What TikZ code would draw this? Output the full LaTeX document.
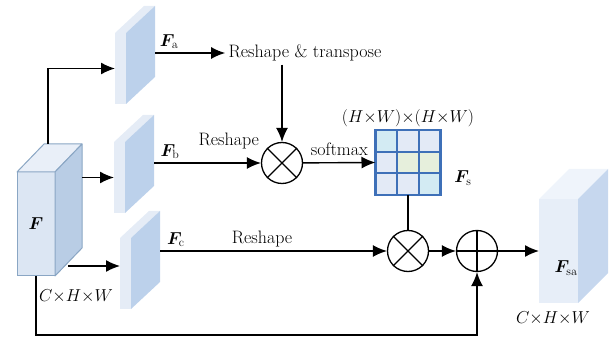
\documentclass[tikz,border=0pt]{standalone}
\usepackage{amsmath,bm}
\usetikzlibrary{arrows.meta}
\definecolor{cfront}{HTML}{DCE6F3}
\definecolor{ctop}{HTML}{E9EFF8}
\definecolor{cside}{HTML}{B9CDE5}
\definecolor{cedge}{HTML}{8AA6C4}
\definecolor{sfront}{HTML}{E5ECF6}
\definecolor{sside}{HTML}{BCD1EB}
\definecolor{ofront}{HTML}{E7EEF8}
\definecolor{oside}{HTML}{C6D7EE}
\definecolor{otop}{HTML}{EFF4FB}
\definecolor{mborder}{HTML}{3E70B8}
\definecolor{mcyan}{HTML}{D3EBF3}
\definecolor{mblue}{HTML}{E3EAF6}
\definecolor{mgreen}{HTML}{E6EFDC}
\tikzset{cubefront/.style={draw=cedge,fill=cfront,line width=1pt,outer sep=0pt,inner sep=0pt},cubeface/.style={draw=cedge,line width=1pt,line join=round},slabfront/.style={fill=sfront,minimum width=11pt,minimum height=71pt,outer sep=0pt,inner sep=0pt},outfront/.style={fill=ofront,minimum width=39pt,minimum height=104pt,outer sep=0pt,inner sep=0pt},op/.style={draw,circle,line width=1.3pt,minimum size=41pt,inner sep=0pt},cell/.style={draw=mborder,line width=2.2pt},edge/.style={-{Latex[length=14pt,width=12pt]},line width=1.4pt},line/.style={line width=1.4pt}}

\begin{document}
\begin{tikzpicture}[x=1pt,y=1pt,font=\fontsize{18}{21}\selectfont]
\useasboundingbox (0,0) rectangle (616,340);
% input feature cube
\node[cubefront,minimum width=38pt,minimum height=104pt] (F) at (36,116) {$\bm{F}$};
\draw[cubeface,fill=ctop] (F.north west) -- ++(27,28) -- ++(38,0) -- (F.north east) -- cycle;
\draw[cubeface,fill=cside] (F.north east) -- ++(27,28) -- ++(0,-104) -- (F.south east) -- cycle;
\node (F-dim) at (76,44) {$C{\times}H{\times}W$};
\coordinate (F-t) at ([shift={(31,28)}]F.north west);
\coordinate (F-r) at ([xshift=27pt]F.east);
\coordinate (F-c) at ([shift={(13,10)}]F.south east);
% the three projected slabs
\node[slabfront] (Fa) at (120.5,271.5) {};
\fill[sfront] (Fa.north west) -- ++(29,27) -- ++(11,0) -- (Fa.north east) -- cycle;
\fill[sside] (Fa.north east) -- ++(29,27) -- ++(0,-71) -- (Fa.south east) -- cycle;
\coordinate (Fa-r) at ([xshift=29pt]Fa.east);
\node[slabfront] (Fb) at (119.5,162.5) {};
\fill[sfront] (Fb.north west) -- ++(29,27) -- ++(11,0) -- (Fb.north east) -- cycle;
\fill[sside] (Fb.north east) -- ++(29,27) -- ++(0,-71) -- (Fb.south east) -- cycle;
\coordinate (Fb-r) at ([xshift=29pt]Fb.east);
\node[slabfront] (Fc) at (125.5,66.5) {};
\fill[sfront] (Fc.north west) -- ++(29,27) -- ++(11,0) -- (Fc.north east) -- cycle;
\fill[sside] (Fc.north east) -- ++(29,27) -- ++(0,-71) -- (Fc.south east) -- cycle;
\coordinate (Fc-r) at ([xshift=29pt]Fc.east);
\draw[edge] (F-t) |- (Fa.west);
\draw[edge] (F-r |- Fb.west) -- (Fb.west);
\draw[edge] (F-c) -- (F-c -| Fc.west);
% attention branch
\node (rt) at (305,287) {Reshape \& transpose};
\node[op] (m1) at (282,177) {};
\draw[line] (m1.north west) -- (m1.south east) (m1.north east) -- (m1.south west);
\node[op] (m2) at (408,89) {};
\draw[line] (m2.north west) -- (m2.south east) (m2.north east) -- (m2.south west);
\node[op] (pl) at (477,89) {};
\draw[line] (pl.north) -- (pl.south) (pl.west) -- (pl.east);
\node[minimum size=65pt,inner sep=0pt,outer sep=0pt] (S) at (408,177.5) {};
\foreach \col/\row/\c in {0/0/mcyan,1/0/mblue,2/0/mblue,0/1/mblue,1/1/mgreen,2/1/mgreen,0/2/mblue,1/2/mblue,2/2/mcyan}
  \draw[cell,fill=\c] ([shift={({\col*65/3},{-\row*65/3})}]S.north west) rectangle ++(65/3,-65/3);
\node[above=0pt] (S-dim) at (S.north) {$(H{\times}W){\times}(H{\times}W)$};
\node (Fs) at (463,162) {$\bm{F}_{\mathrm{s}}$};
\draw[edge] (Fa-r |- rt) -- node[above,pos=.2] (Fa-lab) {$\bm{F}_{\mathrm{a}}$} (rt.west);
\draw[edge] (rt.south -| m1) -- (m1);
\draw[edge] (Fb-r |- m1) -- node[above,pos=.15] (Fb-lab) {$\bm{F}_{\mathrm{b}}$} node[above=10pt,pos=.7] (rb) {Reshape} (m1);
\draw[edge] (m1) -- node[above=3pt] (sm) {softmax} (S.west);
\draw[line] (S.south) -- (m2);
\draw[edge] (Fc-r |- m2) -- node[above,pos=.07] (Fc-lab) {$\bm{F}_{\mathrm{c}}$} node[above,pos=.45] (rc) {Reshape} (m2);
\draw[edge] (m2) -- (pl);
\draw[edge] (F.south) -- ++(0,-59) -| (pl.south);
% output cube
\node[outfront] (Fsa) at (558.5,89) {};
\fill[otop] (Fsa.north west) -- ++(30,30) -- ++(39,0) -- (Fsa.north east) -- cycle;
\fill[oside] (Fsa.north east) -- ++(30,30) -- ++(0,-104) -- (Fsa.south east) -- cycle;
\node (Fsa-lab) at (566,72) {$\bm{F}_{\mathrm{sa}}$};
\node (Fsa-dim) at (553,22) {$C{\times}H{\times}W$};
\draw[edge] (pl) -- (Fsa.west);
\end{tikzpicture}
\end{document}
